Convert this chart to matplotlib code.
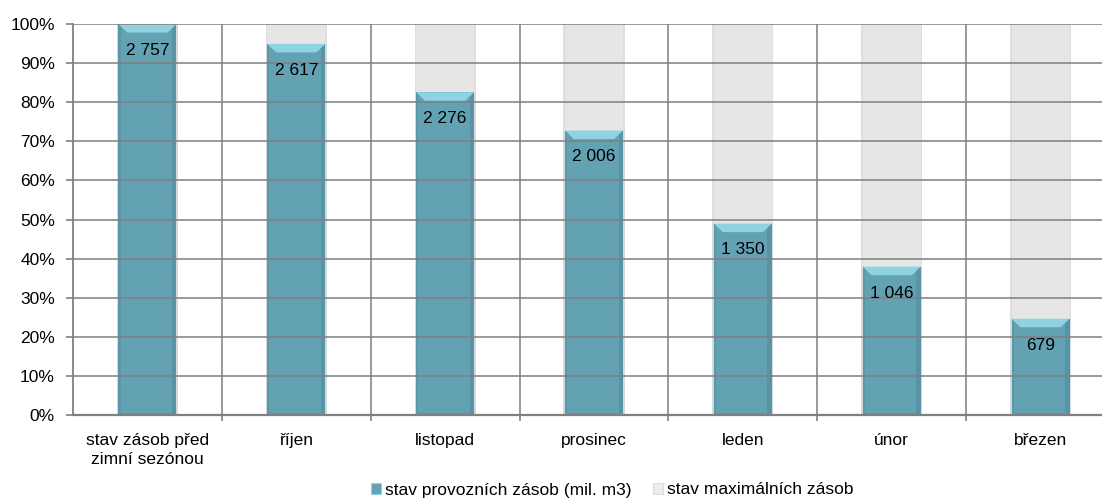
import matplotlib
matplotlib.use("Agg")
import matplotlib.pyplot as plt
from matplotlib.patches import Polygon, Patch, Rectangle
import numpy as np

categories = ["stav zásob před\nzimní sezónou", "říjen", "listopad", "prosinec", "leden", "únor", "březen"]
stock = [2757, 2617, 2276, 2006, 1350, 1046, 679]
max_stock = [2757, 2757, 2757, 2757, 2757, 2757, 2757]
stock_labels = ["2 757", "2 617", "2 276", "2 006", "1 350", "1 046", "679"]
series_names = ["stav provozních zásob (mil. m3)", "stav maximálních zásob"]
yticks = [0, 10, 20, 30, 40, 50, 60, 70, 80, 90, 100]

plt.rcParams['font.family'] = ['Liberation Sans', 'DejaVu Sans']
FS = 12.5

fig = plt.figure(figsize=(11.02, 5.01), dpi=100)
ax = fig.add_axes([73/1102, 86/501, 1042/1102, 391/501])

x = np.arange(len(categories))
pct = np.array(stock) / np.array(max_stock) * 100
rest = 100 - pct
w = 0.39
teal = "#62a2b3"
grey = "#e6e6e6"

# grey remainder bars with soft shadow
for xi, p, r in zip(x, pct, rest):
    ax.add_patch(Rectangle((xi - w/2 - 0.01, p), w + 0.02, r, color="#dedede", zorder=1, lw=0))
bars_g = ax.bar(x, rest, w, bottom=pct, color=grey, zorder=1.5, lw=0)
# teal bars with edge shading
for xi, p in zip(x, pct):
    ax.add_patch(Rectangle((xi - w/2 - 0.01, 0), w + 0.02, p, color="#d3dadc", zorder=1, lw=0))
bars_t = ax.bar(x, pct, w, color=teal, zorder=2, lw=0)
for b in bars_t:
    x0 = b.get_x(); x1 = x0 + b.get_width(); top = b.get_height()
    ax.add_patch(Rectangle((x0, 0), 0.015, top, color="#5a97a8", zorder=2.1, lw=0))
    ax.add_patch(Rectangle((x1 - 0.03, 0), 0.03, top, color="#5894a5", zorder=2.1, lw=0))
    bevel = Polygon([(x0, top), (x1, top), (x1 - 0.06, top - 2.2), (x0 + 0.06, top - 2.2)],
                    closed=True, color="#8fd3e3", zorder=2.2, lw=0)
    ax.add_patch(bevel)
    ax.add_patch(Rectangle((x0, 0), x1 - x0, 0.6, color="#5a97a8", zorder=2.1, lw=0))

for b, lab in zip(bars_t, stock_labels):
    ax.annotate(lab, (b.get_x() + b.get_width()/2, b.get_height()), xytext=(0, -19),
                textcoords="offset points", ha="center", va="center", fontsize=FS, zorder=5)

ax.set_xlim(-0.5, len(categories) - 0.5)
ax.set_ylim(0, 100)
ax.set_yticks(yticks)
ax.set_yticklabels([f"{t}%" for t in yticks], fontsize=FS)
ax.set_xticks(x)
ax.set_xticklabels(categories, fontsize=FS, linespacing=1.3)
ax.tick_params(axis="x", length=0, pad=13)
ax.tick_params(axis="y", length=5, color="#808080", width=1.2, pad=8)
ax.set_xticks(np.arange(len(categories)) + 0.5, minor=True)
ax.tick_params(axis="x", which="minor", length=4, color="#808080", width=1.2)

for t in yticks[1:]:
    ax.axhline(t, color="#7f7f7f", lw=1.3, alpha=0.85, zorder=3)
for v in np.arange(len(categories) - 1) + 0.5:
    ax.axvline(v, color="#7f7f7f", lw=1.3, alpha=0.85, zorder=0.5)

for s in ["top", "right"]:
    ax.spines[s].set_visible(False)
ax.spines["left"].set_color("#808080"); ax.spines["left"].set_linewidth(1.3)
ax.spines["bottom"].set_color("#808080"); ax.spines["bottom"].set_linewidth(1.6)
ax.spines["bottom"].set_zorder(4)

handles = [Patch(facecolor=teal, edgecolor="#8fd3e3", lw=0.8), Patch(facecolor="#ececec", edgecolor="#dcdcdc", lw=0.8)]
fig.legend(handles, series_names, loc="center", bbox_to_anchor=(612/1102, 11/501), ncol=2,
           frameon=False, fontsize=FS, handlelength=0.6, handleheight=0.6, handletextpad=0.2,
           columnspacing=1.25)

fig.savefig("out.png", dpi=100)
